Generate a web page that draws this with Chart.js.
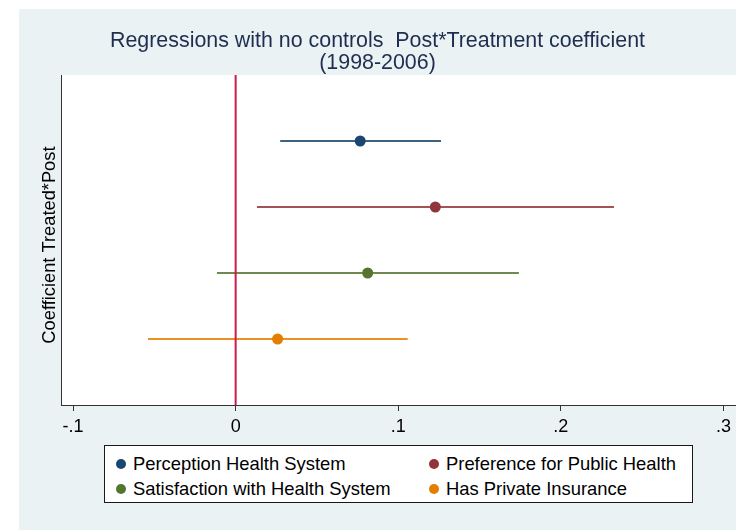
<!DOCTYPE html>
<html>
<head>
<meta charset="utf-8">
<script src="https://cdn.jsdelivr.net/npm/chart.js@4/dist/chart.umd.min.js"></script>
<style>
  html, body { margin: 0; padding: 0; background: #ffffff; overflow: hidden; }
  body { width: 736px; height: 530px; position: relative; font-family: "Liberation Sans", Arial, sans-serif; }
  #region { position: absolute; left: 19px; top: 9px; width: 717px; height: 521px; background: #EAF2F3; overflow: hidden; }
  #chartBox { position: absolute; left: 0; top: 0; width: 717px; height: 521px; }
  #legend {
    position: absolute; left: 85px; top: 436px; width: 589px; height: 58px;
    background: #ffffff; border: 1px solid #1a1a1a; box-sizing: border-box;
  }
  .item { position: absolute; font-size: 18.4px; color: #000; white-space: nowrap; line-height: 20px; }
  .item .dot { position: absolute; left: -17px; top: 5px; width: 10px; height: 10px; border-radius: 50%; }
</style>
</head>
<body>
<div id="region">
  <div id="chartBox"><canvas id="c" width="717" height="521"></canvas></div>
  <div id="legend"></div>
</div>
<script>
// Outcomes and their Post*Treatment estimates with 95% confidence bounds
const outcomes = ["Perception Health System", "Preference for Public Health",
                  "Satisfaction with Health System", "Has Private Insurance"];
const coef   = [0.0766, 0.1228, 0.0812, 0.0258];
const ciLow  = [0.0274, 0.0131, -0.0115, -0.0539];
const ciHigh = [0.1263, 0.2327, 0.1742, 0.1058];
const rowPos = [1, 2, 3, 4];
const xTicks = [-0.1, 0, 0.1, 0.2, 0.3];
const colors = ["#1A476F", "#90353B", "#55752F", "#E37E00"];

const FONT = '"Liberation Sans", Arial, sans-serif';

function fmtTick(v) {
  if (Math.abs(v) < 1e-9) return "0";
  const s = "." + Math.round(Math.abs(v) * 10);
  return v < 0 ? "-" + s : s;
}

function hexA(hex, a) {
  const n = parseInt(hex.slice(1), 16);
  return `rgba(${(n >> 16) & 255},${(n >> 8) & 255},${n & 255},${a})`;
}

const datasets = [];
// coefficient markers
outcomes.forEach((name, i) => {
  datasets.push({
    type: "scatter", label: name, order: 0,
    data: [{ x: coef[i], y: rowPos[i] }],
    backgroundColor: colors[i], borderColor: colors[i], borderWidth: 0,
    pointRadius: 5.5, pointHoverRadius: 5.5
  });
});
// reference line at zero
datasets.push({
  type: "line", label: "zero", order: 1,
  data: [{ x: 0, y: 0 }, { x: 0, y: 5 }],
  borderColor: "#CC1B4B", borderWidth: 2, pointRadius: 0, fill: false
});
// confidence intervals
outcomes.forEach((name, i) => {
  datasets.push({
    type: "line", label: name + " CI", order: 2,
    data: [{ x: ciLow[i], y: rowPos[i] }, { x: ciHigh[i], y: rowPos[i] }],
    borderColor: hexA(colors[i], 0.85), borderWidth: 2, pointRadius: 0, fill: false
  });
});

const plotBg = {
  id: "plotBg",
  beforeDraw(chart) {
    const { ctx, chartArea: a } = chart;
    ctx.save();
    ctx.fillStyle = "#ffffff";
    ctx.fillRect(a.left, a.top, a.right - a.left, a.bottom - a.top);
    ctx.restore();
  }
};

new Chart(document.getElementById("c"), {
  data: { datasets },
  plugins: [plotBg],
  options: {
    responsive: false,
    animation: false,
    events: [],
    layout: { autoPadding: false, padding: { left: 0, right: 0, top: 0, bottom: 87.4 } },
    plugins: {
      legend: { display: false },
      tooltip: { enabled: false },
      title: {
        display: true,
        text: ["Regressions with no controls  Post*Treatment coefficient", "(1998-2006)"],
        color: "#1E2D50",
        font: { family: FONT, size: 21.4, weight: "normal", lineHeight: 22 / 21.4 },
        padding: { top: 21.5, bottom: 0.5 }
      }
    },
    scales: {
      x: {
        type: "linear", position: "bottom",
        min: -0.1068, max: 0.3077,
        afterBuildTicks(scale) { scale.ticks = xTicks.map(v => ({ value: v })); },
        grid: { display: true, drawOnChartArea: false, drawTicks: true, tickLength: 6, color: "#333", lineWidth: 1 },
        border: { display: true, color: "#333", width: 1 },
        ticks: { callback: v => fmtTick(v), color: "#000", font: { family: FONT, size: 18 }, padding: 5, maxRotation: 0, autoSkip: false }
      },
      y: {
        type: "linear", position: "left", reverse: true,
        min: 0, max: 5,
        grid: { display: false, drawTicks: false },
        border: { display: true, color: "#333", width: 1 },
        ticks: { display: false },
        title: {
          display: true, text: "Coefficient Treated*Post  ", color: "#000",
          font: { family: FONT, size: 18.3, lineHeight: 1.2 },
          padding: { top: 20, bottom: 1 }
        }
      }
    }
  }
});

// legend: two columns, two rows
const legend = document.getElementById("legend");
const cols = [28, 341];
const rows = [8, 33];
outcomes.forEach((name, i) => {
  const el = document.createElement("div");
  el.className = "item";
  el.style.left = cols[i % 2] + "px";
  el.style.top = rows[Math.floor(i / 2)] + "px";
  const dot = document.createElement("span");
  dot.className = "dot";
  dot.style.background = colors[i];
  el.appendChild(dot);
  el.appendChild(document.createTextNode(name));
  legend.appendChild(el);
});
</script>
</body>
</html>
